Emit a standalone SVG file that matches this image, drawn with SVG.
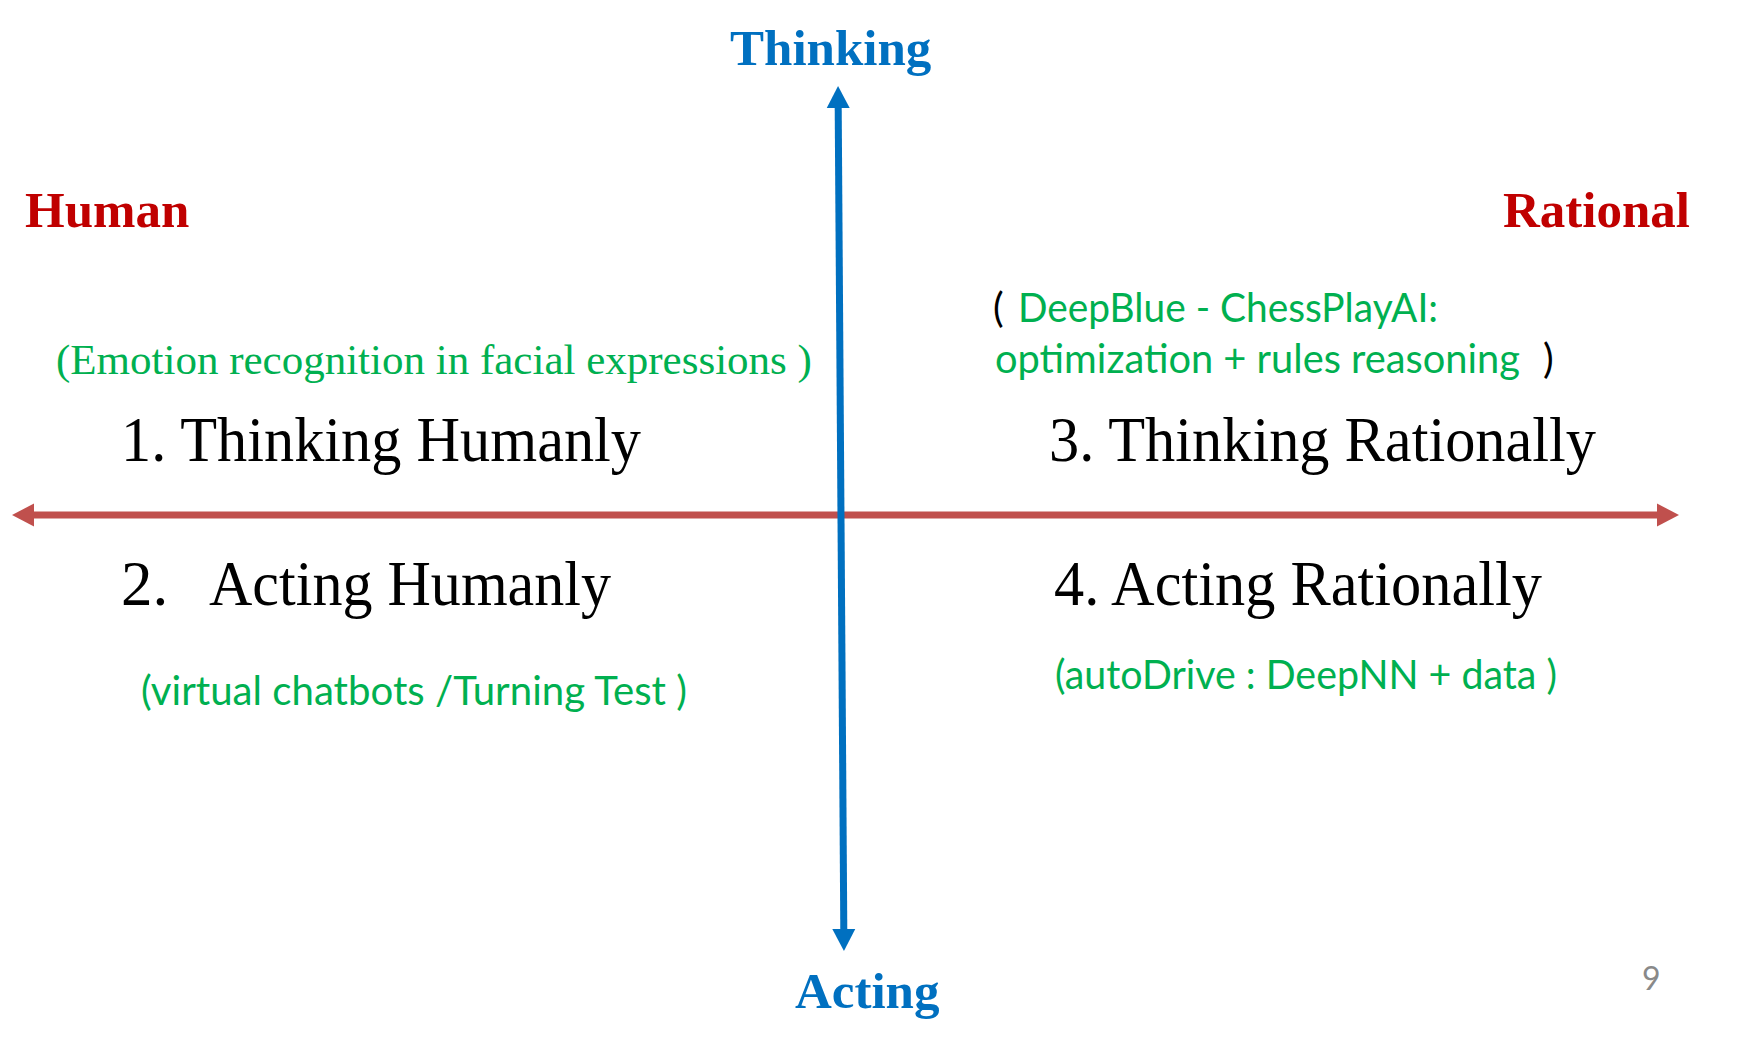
<svg xmlns="http://www.w3.org/2000/svg" width="1741" height="1039" viewBox="0 0 1741 1039">
  <style>
    .axis-v { fill: #0070C0; font-family: "Liberation Serif", "Times New Roman", serif; font-weight: bold; font-size: 51px; }
    .axis-h { fill: #C00000; font-family: "Liberation Serif", "Times New Roman", serif; font-weight: bold; font-size: 51px; }
    .quad { fill: #000000; font-family: "Liberation Serif", "Times New Roman", serif; font-size: 63px; }
    .note-serif { fill: #00B050; font-family: "Liberation Serif", "Times New Roman", serif; font-size: 43px; }
    .note { fill: #00B050; font-family: Lato, "Open Sans", sans-serif; font-size: 40px; }
    .paren { fill: #000000; font-family: Lato, "Open Sans", sans-serif; font-size: 40px; }
    .page { fill: #898989; font-family: Lato, "Open Sans", sans-serif; font-size: 32px; }
  </style>
  <defs>
    <marker id="head-red" viewBox="0 -12 22 24" markerUnits="userSpaceOnUse" markerWidth="22" markerHeight="24" refX="0" refY="0" orient="auto-start-reverse">
      <path d="M0,-11.5 L22,0 L0,11.5 Z" fill="#C0504D"/>
    </marker>
    <marker id="head-blue" viewBox="0 -12 22 24" markerUnits="userSpaceOnUse" markerWidth="22" markerHeight="24" refX="0" refY="0" orient="auto-start-reverse">
      <path d="M0,-11.5 L22,0 L0,11.5 Z" fill="#0070C0"/>
    </marker>
  </defs>

  <rect x="0" y="0" width="1741" height="1039" fill="#ffffff"/>

  <!-- axes -->
  <g id="connectors">
    <line id="axis-human-rational" x1="34" y1="515" x2="1657" y2="515" stroke="#C0504D" stroke-width="7" marker-start="url(#head-red)" marker-end="url(#head-red)"/>
    <line id="axis-thinking-acting" x1="838.2" y1="108" x2="843.8" y2="929" stroke="#0070C0" stroke-width="7" marker-start="url(#head-blue)" marker-end="url(#head-blue)"/>
  </g>

  <!-- axis labels -->
  <g id="label-thinking"><text class="axis-v" x="730" y="65">Thinking</text></g>
  <g id="label-acting"><text class="axis-v" x="795" y="1008">Acting</text></g>
  <g id="label-human"><text class="axis-h" x="25" y="227">Human</text></g>
  <g id="label-rational"><text class="axis-h" x="1503" y="227">Rational</text></g>

  <!-- quadrant 1 -->
  <g id="thinking-humanly">
    <text class="note-serif" x="56" y="374">(Emotion recognition in facial expressions )</text>
    <text class="quad" x="121" y="461" textLength="520" lengthAdjust="spacingAndGlyphs">1. Thinking Humanly</text>
  </g>

  <!-- quadrant 2 -->
  <g id="acting-humanly">
    <text class="quad" x="121" y="605">2.</text>
    <text class="quad" x="209" y="605" textLength="402" lengthAdjust="spacingAndGlyphs">Acting Humanly</text>
    <text class="note" x="141" y="705" textLength="546" lengthAdjust="spacingAndGlyphs">(virtual chatbots /Turning Test )</text>
  </g>

  <!-- quadrant 3 -->
  <g id="thinking-rationally">
    <text class="paren" x="993" y="322">(</text>
    <text class="note" x="1018" y="322" textLength="420" lengthAdjust="spacingAndGlyphs">DeepBlue - ChessPlayAI:</text>
    <text class="note" x="995" y="373" textLength="525" lengthAdjust="spacingAndGlyphs">optimization + rules reasoning</text>
    <text class="paren" x="1543" y="373">)</text>
    <text class="quad" x="1049" y="461" textLength="547" lengthAdjust="spacingAndGlyphs">3. Thinking Rationally</text>
  </g>

  <!-- quadrant 4 -->
  <g id="acting-rationally">
    <text class="quad" x="1054" y="605" textLength="488" lengthAdjust="spacingAndGlyphs">4. Acting Rationally</text>
    <text class="note" x="1055" y="689" textLength="502" lengthAdjust="spacingAndGlyphs">(autoDrive : DeepNN + data )</text>
  </g>

  <g id="page-number"><text class="page" x="1642" y="990">9</text></g>
</svg>
